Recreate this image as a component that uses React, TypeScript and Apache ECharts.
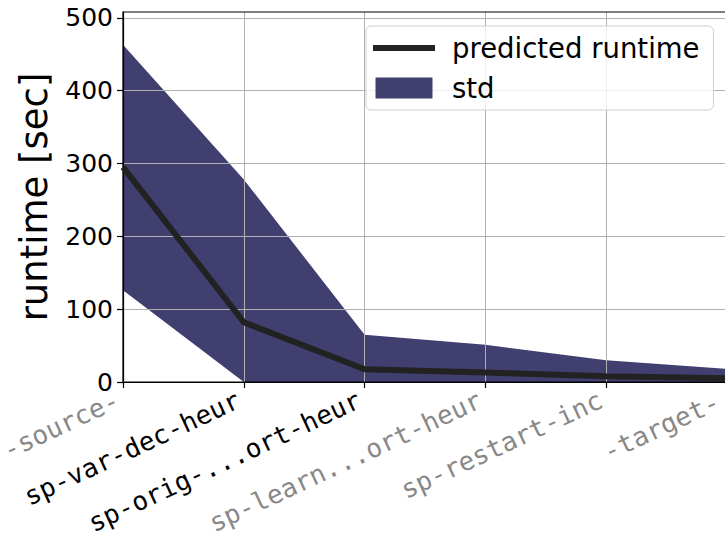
import React, { useEffect, useRef } from "react";
import * as echarts from "echarts";

// Pipeline stages along the x axis
const categories = [
  "-source-",
  "sp-var-dec-heur",
  "sp-orig-...ort-heur",
  "sp-learn...ort-heur",
  "sp-restart-inc",
  "-target-",
];
const categoryColors = ["#888888", "#000000", "#000000", "#888888", "#888888", "#888888"];

// Predicted runtime (seconds) and its standard-deviation band
const predictedRuntime = [295, 82, 17.5, 13, 8, 5];
const stdUpper = [463, 278, 65, 51, 30, 18];
const stdLower = [126, 0, 0, 0, 0, 0];

const yTicks = [0, 100, 200, 300, 400, 500];
const yMax = 508;

const BAND_COLOR = "#403f70";
const LINE_COLOR = "#222222";

// Legend glyphs: a thick bar for the runtime line, a patch for the band
const LINE_ICON = "path://M0,0 L62,0 L62,6 L0,6 Z";
const BAND_ICON = "path://M0,0 L57,0 L57,21 L0,21 Z";

export default function App() {
  const ref = useRef<HTMLDivElement>(null);

  useEffect(() => {
    if (!ref.current) return;
    const chart = echarts.init(ref.current, null, { renderer: "svg" });
    const bandWidth = stdUpper.map((u, i) => u - stdLower[i]);
    const last = categories.length - 1;

    chart.setOption({
      animation: false,
      backgroundColor: "#ffffff",
      grid: {
        left: 123,
        right: -2,
        top: 12,
        bottom: 157,
        outerBoundsMode: "none",
        containLabel: false,
        show: true,
        borderColor: "#000000",
        borderWidth: 1.2,
        z: 2,
      },
      legend: {
        left: 366,
        top: 26,
        orient: "vertical",
        itemWidth: 62,
        itemHeight: 21,
        itemGap: 12,
        padding: [8, 14, 8, 7],
        backgroundColor: "rgba(255,255,255,0.8)",
        borderColor: "#d0d0d0",
        borderWidth: 1,
        borderRadius: 5,
        textStyle: {
          fontFamily: "DejaVu Sans",
          fontSize: 27.5,
          color: "#000",
          padding: [0, 0, 0, 12],
        },
        data: [
          { name: "predicted runtime", icon: LINE_ICON, itemStyle: { color: LINE_COLOR } },
          { name: "std", icon: BAND_ICON, itemStyle: { color: BAND_COLOR } },
        ],
      },
      xAxis: {
        type: "category",
        boundaryGap: false,
        data: categories.map((c, i) => ({
          value: c,
          textStyle:
            i === last
              ? { color: categoryColors[i], padding: [10, 10, 0, 0] }
              : { color: categoryColors[i] },
        })),
        z: 1,
        axisLine: { lineStyle: { color: "#000", width: 1.2 } },
        axisTick: { show: true, length: 6, lineStyle: { color: "#000", width: 1.2 }, alignWithLabel: true },
        axisLabel: {
          rotate: 25,
          margin: 14,
          interval: 0,
          padding: [10, 6, 0, 0],
          fontFamily: "DejaVu Sans Mono",
          fontSize: 26,
        },
        splitLine: { show: true, lineStyle: { color: "#b0b0b0", width: 1 } },
      },
      yAxis: {
        type: "value",
        min: 0,
        max: yMax,
        interval: 100,
        z: 1,
        name: "runtime [sec]",
        nameLocation: "middle",
        nameGap: 70,
        nameTextStyle: { fontFamily: "DejaVu Sans", fontSize: 37, color: "#000" },
        axisLine: { show: true, lineStyle: { color: "#000", width: 1.2 } },
        axisTick: { show: true, length: 6, lineStyle: { color: "#000", width: 1.2 }, customValues: yTicks },
        axisLabel: {
          customValues: yTicks,
          margin: 10,
          fontFamily: "DejaVu Sans",
          fontSize: 25,
          color: "#000",
        },
        splitLine: { show: true, lineStyle: { color: "#b0b0b0", width: 1 } },
      },
      series: [
        {
          name: "lower",
          type: "line",
          data: stdLower,
          stack: "std",
          symbol: "none",
          silent: true,
          z: 0,
          lineStyle: { width: 0, opacity: 0 },
        },
        {
          name: "std",
          type: "line",
          data: bandWidth,
          stack: "std",
          symbol: "none",
          silent: true,
          z: 0,
          itemStyle: { color: BAND_COLOR },
          lineStyle: { width: 0, opacity: 0 },
          areaStyle: { color: BAND_COLOR, opacity: 1 },
        },
        {
          name: "predicted runtime",
          type: "line",
          data: predictedRuntime,
          symbol: "none",
          z: 3,
          itemStyle: { color: LINE_COLOR },
          lineStyle: { color: LINE_COLOR, width: 6 },
        },
      ],
    });

    return () => chart.dispose();
  }, []);

  return (
    <div
      ref={ref}
      style={{ position: "fixed", left: 0, top: 0, width: 725, height: 539 }}
    />
  );
}
